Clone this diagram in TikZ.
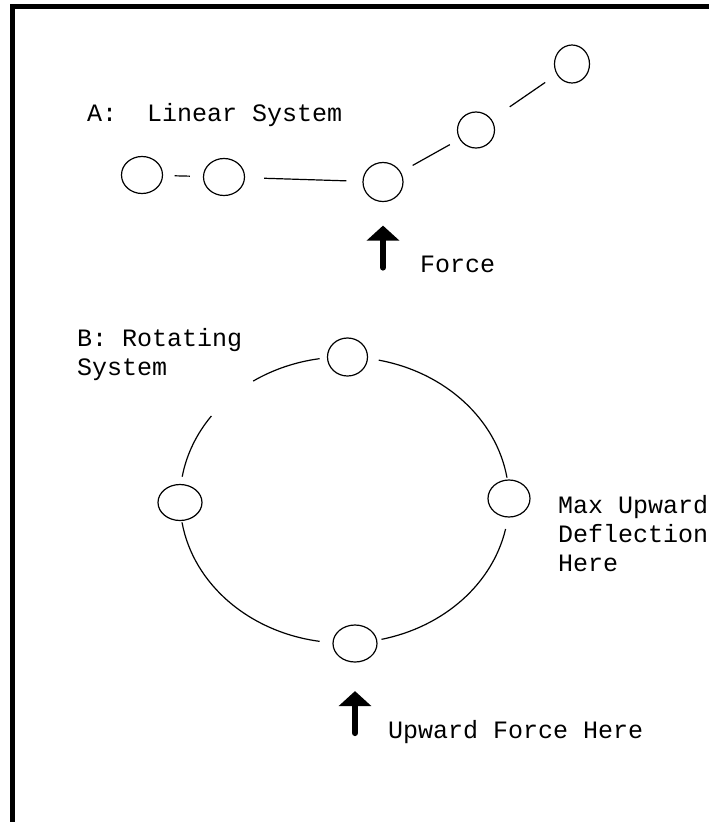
\documentclass[tikz,border=0pt]{standalone}
\usepackage{fontspec}
\newfontfamily\monofont{Liberation Mono}
\usepackage{tikz}
\usetikzlibrary{shapes,arrows.meta,positioning,calc}

\begin{document}
\begin{tikzpicture}[
    x=1pt, y=-1pt,
    font=\monofont\fontsize{25}{29}\selectfont,
    bead/.style={ellipse, draw, line width=1.2pt, minimum width=41pt, minimum height=37pt, inner sep=0pt},
    link/.style={line width=1.2pt},
    ring/.style={line width=1.2pt, x radius=164.5pt, y radius=143pt},
    push/.style={-{Triangle[width=32pt,length=15pt]}, line width=6pt, line cap=round},
    note/.style={anchor=base west, inner sep=0pt, align=left}
]
    \useasboundingbox (0,0) rectangle (709,822);
    \draw [line width=5pt] (12.5,822) -- (12.5,6.5) -- (709,6.5);

    % A: linear system
    \node (lblA) [note] at (87,121) {A:~~Linear System};
    \node (e1) [bead] at (142,175) {};
    \node (e2) [bead] at (224,177) {};
    \node (e3) [bead, minimum width=40pt, minimum height=39pt] at (383,182) {};
    \node (e4) [bead, minimum width=37pt, minimum height=36pt] at (476,130) {};
    \node (e5) [bead, minimum width=35pt, minimum height=38pt] at (572,64) {};

    \draw [link, shorten <=11.5pt, shorten >=13pt] (e1) -- (e2);
    \draw [link, shorten <=19pt, shorten >=16pt] (e2) -- (e3);
    \draw [link, shorten <=13.5pt, shorten >=11pt] (e3) -- (e4);
    \draw [link, shorten <=22pt, shorten >=14pt] (e4) -- (e5);

    \coordinate [below=65.5pt of e3.south] (fa);
    \draw [push, shorten >=23.5pt] (fa) -- (e3.south);
    \node (lblF) [note] at (420,272) {Force};

    % B: rotating system (base = last line)
    \node (lblB) [note] at (77,375) {B: Rotating\\System};
    \coordinate (hub) at (344.5,500);
    \node (top) [bead, minimum width=40pt, minimum height=38pt] at (347.5,357) {};
    \node (left) [bead, minimum width=44pt, minimum height=36pt] at (180,502.5) {};
    \node (right) [bead, minimum width=42pt, minimum height=37pt] at (509,498.5) {};
    \node (bot) [bead, minimum width=44pt, minimum height=37pt] at (355,643.5) {};

    \draw [ring] ($(hub)+(78:164.5pt and 143pt)$) arc[start angle=78, end angle=9];
    \draw [ring] ($(hub)+(-11.7:164.5pt and 143pt)$) arc[start angle=-11.7, end angle=-77];
    \draw [ring] ($(hub)+(-98.7:164.5pt and 143pt)$) arc[start angle=-98.7, end angle=-171];
    \draw [ring] ($(hub)+(170.6:164.5pt and 143pt)$) arc[start angle=170.6, end angle=144];
    \draw [ring] ($(hub)+(123.7:164.5pt and 143pt)$) arc[start angle=123.7, end angle=98.7];

    \node (lblMax) [note] at (558,571) {Max Upward\\Deflection\\Here};

    \coordinate [below=70.5pt of bot.south] (fb);
    \draw [push, shorten >=28.5pt] (fb) -- (bot.south);
    \node (lblUp) [note] at (388,738) {Upward Force Here};
\end{tikzpicture}
\end{document}
